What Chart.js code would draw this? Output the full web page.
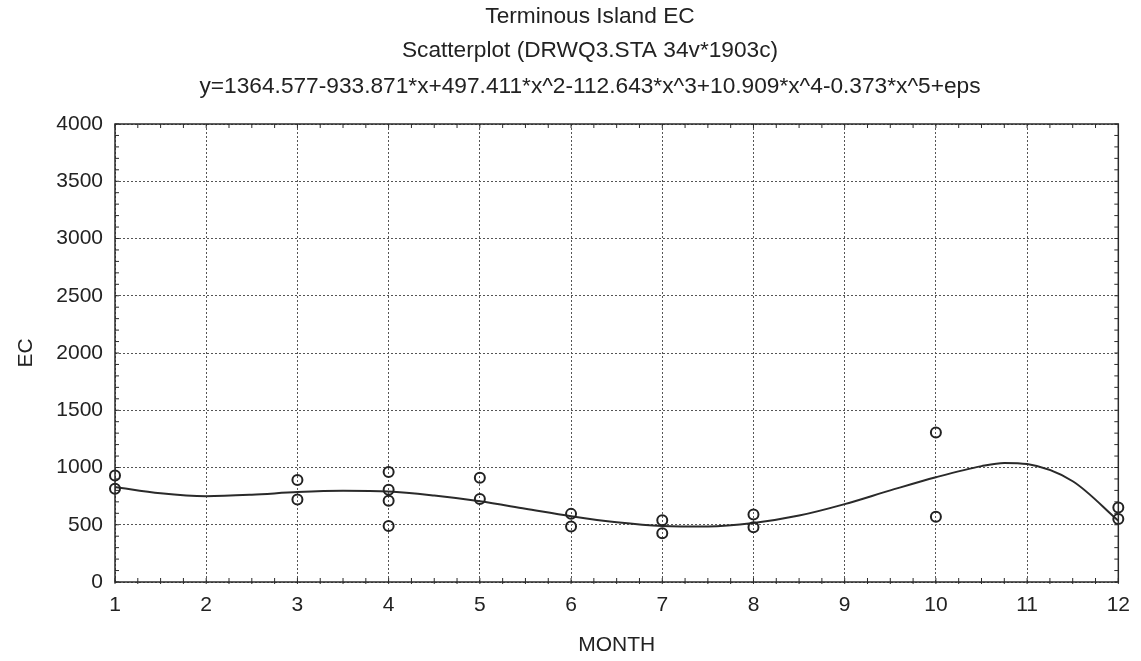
<!DOCTYPE html>
<html>
<head>
<meta charset="utf-8">
<script src="https://cdn.jsdelivr.net/npm/chart.js@4.4.0/dist/chart.umd.min.js"></script>
<style>
  html, body { margin: 0; padding: 0; background: #fff; }
  #wrap { width: 1141px; height: 661px; }
</style>
</head>
<body>
<div id="wrap"><canvas id="chart"></canvas></div>
<script>
// observed EC values by month
const obsMonth = [1, 1, 3, 3, 4, 4, 4, 4, 5, 5, 6, 6, 7, 7, 8, 8, 10, 10, 12, 12];
const obsEC    = [930, 815, 890, 720, 960, 805, 710, 490, 910, 725, 595, 485, 540, 425, 590, 478, 1305, 570, 650, 550];

// fitted curve
const fitMonth = [1, 1.5, 2, 2.5, 3, 3.5, 4, 4.5, 5, 5.5, 6, 6.5, 7, 7.5, 8, 8.5, 9, 9.5, 10, 10.5, 10.75, 11, 11.5, 12];
const fitEC    = [830, 775, 750, 762, 785, 796, 790, 755, 705, 640, 575, 522, 490, 485, 515, 580, 680, 800, 915, 1012, 1040, 1030, 880, 535];

const titleLines = [
  "Terminous Island EC",
  "Scatterplot (DRWQ3.STA 34v*1903c)",
  "y=1364.577-933.871*x+497.411*x^2-112.643*x^3+10.909*x^4-0.373*x^5+eps"
];

const FONT = "'Liberation Sans', Arial, sans-serif";
const INK = "#2a2a2a";

// titles, frame and small inner ticks
const framePlugin = {
  id: "frame",
  afterDraw(chart) {
    const { ctx, chartArea: a, scales } = chart;
    ctx.save();
    ctx.fillStyle = "#222";
    ctx.font = "22.7px " + FONT;
    ctx.textAlign = "center";
    ctx.textBaseline = "middle";
    [17, 51, 87].forEach((y, i) => ctx.fillText(titleLines[i], 590, y));

    ctx.strokeStyle = INK;
    ctx.lineWidth = 1.5;
    ctx.strokeRect(a.left, a.top, a.right - a.left, a.bottom - a.top);
    ctx.lineWidth = 1;
    for (let v = 0; v <= 4000; v += 100) {
      const y = scales.y.getPixelForValue(v);
      ctx.beginPath();
      ctx.moveTo(a.left, y); ctx.lineTo(a.left + 4, y);
      ctx.moveTo(a.right, y); ctx.lineTo(a.right - 4, y);
      ctx.stroke();
    }
    for (let m = 1; m <= 12; m += 0.25) {
      const x = scales.x.getPixelForValue(m);
      ctx.beginPath();
      ctx.moveTo(x, a.bottom + 2); ctx.lineTo(x, a.bottom - 4);
      ctx.moveTo(x, a.top); ctx.lineTo(x, a.top + 4);
      ctx.stroke();
    }
    ctx.restore();
  }
};

new Chart(document.getElementById("chart"), {
  type: "scatter",
  data: {
    datasets: [
      {
        type: "line",
        data: fitMonth.map((m, i) => ({ x: m, y: fitEC[i] })),
        borderColor: INK,
        borderWidth: 2,
        pointRadius: 0,
        cubicInterpolationMode: "monotone",
        fill: false,
        order: 2
      },
      {
        data: obsMonth.map((m, i) => ({ x: m, y: obsEC[i] })),
        pointStyle: "circle",
        pointRadius: 5,
        borderColor: "#222",
        borderWidth: 2,
        backgroundColor: "rgba(255,255,255,0)",
        clip: false,
        order: 1
      }
    ]
  },
  options: {
    responsive: true,
    maintainAspectRatio: false,
    animation: false,
    layout: { padding: { left: 0, right: 22, top: 124, bottom: 0 } },
    plugins: {
      legend: { display: false },
      tooltip: { enabled: false },
      title: { display: false }
    },
    scales: {
      x: {
        type: "linear",
        min: 1, max: 12,
        afterFit(scale) { scale.height = 661 - 582; },
        ticks: { stepSize: 1, color: "#222", font: { family: FONT, size: 21 }, padding: 11 },
        grid: { color: "#555", lineWidth: 1, drawTicks: false },
        border: { display: false, dash: [2, 2] },
        title: { display: true, text: "MONTH", color: "#222", font: { family: FONT, size: 21 }, padding: { top: 0, bottom: 3 } }
      },
      y: {
        min: 0, max: 4000,
        afterFit(scale) { scale.width = 115; },
        ticks: { stepSize: 500, color: "#222", font: { family: FONT, size: 21 }, padding: 12,
                 callback: v => String(v) },
        grid: { color: "#555", lineWidth: 1, drawTicks: false },
        border: { display: false, dash: [2, 2] },
        title: { display: true, text: "EC", color: "#222", font: { family: FONT, size: 21 }, padding: { top: 14, bottom: 0 } }
      }
    }
  },
  plugins: [framePlugin]
});
</script>
</body>
</html>
